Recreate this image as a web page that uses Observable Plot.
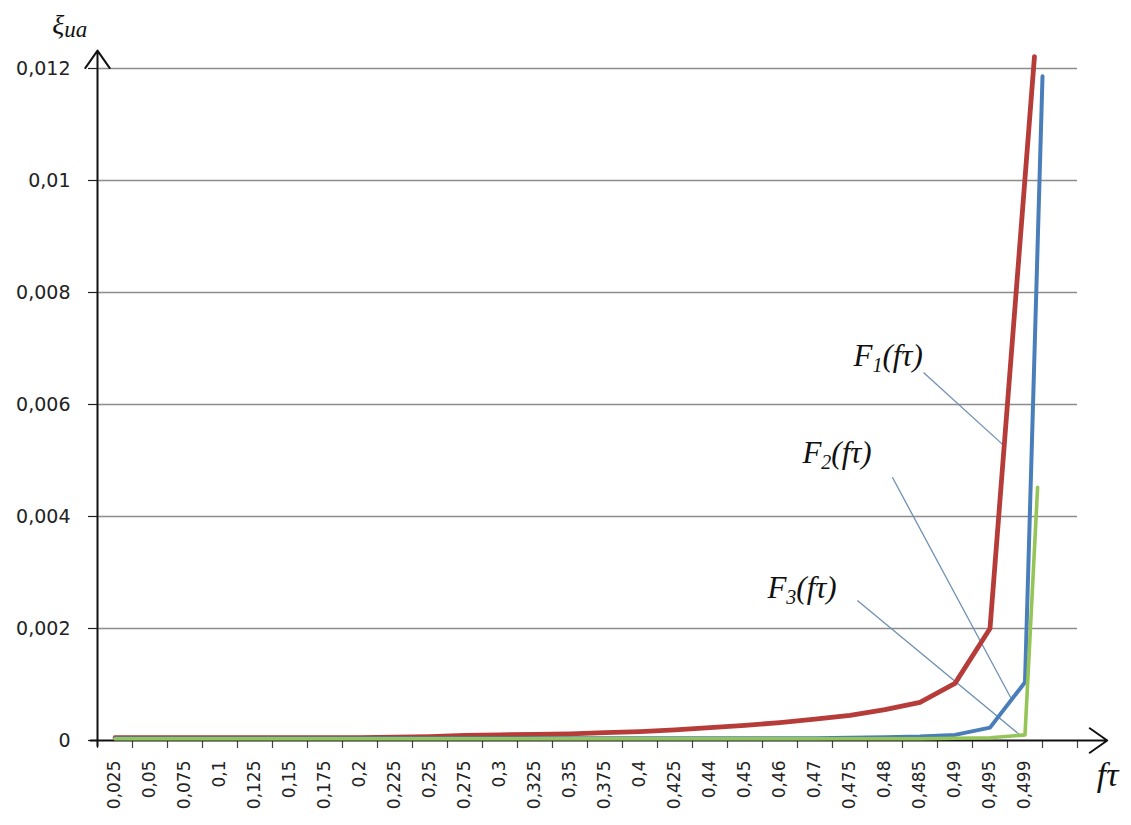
<!DOCTYPE html>
<html>
<head>
<meta charset="utf-8">
<script src="https://cdn.jsdelivr.net/npm/d3@7"></script>
<script src="https://cdn.jsdelivr.net/npm/@observablehq/plot@0.6"></script>
<style>
  html, body { margin: 0; padding: 0; background: #ffffff; }
  #chart svg { display: block; }
</style>
</head>
<body>
<div id="chart"></div>
<script>
// ---- data ----
const categories = ["0,025","0,05","0,075","0,1","0,125","0,15","0,175","0,2","0,225","0,25",
  "0,275","0,3","0,325","0,35","0,375","0,4","0,425","0,44","0,45","0,46","0,47","0,475",
  "0,48","0,485","0,49","0,495","0,499"];

const F1 = [0.00005,0.00005,0.00005,0.00005,0.00005,0.00005,0.00005,0.00005,0.00006,0.00007,
  0.00009,0.0001,0.00011,0.00012,0.00014,0.00016,0.00019,0.00023,0.00027,0.00032,0.00038,
  0.00045,0.00055,0.00068,0.00102,0.002];
const F2 = [0.00004,0.00004,0.00004,0.00004,0.00004,0.00004,0.00004,0.00004,0.00004,0.00004,
  0.00004,0.00004,0.00004,0.00004,0.00004,0.00004,0.00004,0.00004,0.00004,0.00004,0.00004,
  0.00005,0.00006,0.00007,0.0001,0.00023,0.00104];
const F3 = [0.00003,0.00003,0.00003,0.00003,0.00003,0.00003,0.00003,0.00003,0.00003,0.00003,
  0.00003,0.00003,0.00003,0.00003,0.00003,0.00003,0.00003,0.00003,0.00003,0.00003,0.00003,
  0.00003,0.00003,0.00003,0.00004,0.00005,0.0001];
// final (spike) point of each curve: position in category units and value
const peakAt    = [26.27, 26.5, 26.36];
const peakValue = [0.01221, 0.01186, 0.00452];

const yTicks = [0, 0.002, 0.004, 0.006, 0.008, 0.01, 0.012];
const yTickLabels = ["0", "0,002", "0,004", "0,006", "0,008", "0,01", "0,012"];

const seriesNames = ["F1", "F2", "F3"];
const annotationSubs = ["1", "2", "3"];
// label anchor (category units, value) and leader line ends
const annX  = [21.1, 19.64, 18.64];
const annY  = [0.00686, 0.00514, 0.00273];
const leadX1 = [23.1, 22.21, 21.21];
const leadY1 = [0.00657, 0.0047, 0.0025];
const leadX2 = [25.39, 25.64, 25.87];
const leadY2 = [0.00527, 0.00071, 0.00009];

// ---- build tables ----
const allSeries = [F1, F2, F3];
const rows = seriesNames.map((name, s) =>
  allSeries[s].map((v, i) => ({series: name, x: i, y: v}))
    .concat([{series: name, x: peakAt[s], y: peakValue[s]}]));

const annotations = seriesNames.map((name, s) => ({
  main: "F", sub: annotationSubs[s], rest: "(fτ)",
  x: annX[s], y: annY[s],
  x1: leadX1[s], y1: leadY1[s], x2: leadX2[s], y2: leadY2[s]
}));

const colors = {F1: "#b63c39", F2: "#4a7ebb", F3: "#95c457"};
const widths = {F1: 4.8, F2: 4, F3: 3.6};

const serif = "'Liberation Serif', 'Times New Roman', serif";
const sans = "'DejaVu Sans', sans-serif";

const chart = Plot.plot({
  width: 1131,
  height: 825,
  marginLeft: 97,
  marginRight: 54,
  marginTop: 68,
  marginBottom: 85,
  style: {background: "#ffffff", overflow: "visible"},
  x: {type: "linear", domain: [-0.5, 27.5]},
  y: {type: "linear", domain: [0, 0.012]},
  marks: [
    // gridlines
    Plot.ruleY(yTicks.filter(d => d > 0), {stroke: "#8c8c8c", strokeWidth: 1.6}),
    // y axis ticks + labels
    Plot.axisY({
      ticks: yTicks, tickFormat: (d, i) => yTickLabels[yTicks.indexOf(d)],
      tickSize: 9, tickPadding: 18, label: null,
      fontSize: 19, fontFamily: sans, fill: "#222", stroke: "#222", strokeWidth: 1.2
    }),
    // x axis ticks at category boundaries
    Plot.axisX({
      ticks: d3.range(-0.5, 28, 1), tickFormat: () => "",
      tickSize: 8, label: null, stroke: "#444", strokeWidth: 1.2
    }),
    // x axis category labels
    Plot.axisX({
      ticks: d3.range(categories.length), tickFormat: i => categories[i],
      tickSize: 0, tickPadding: 20, tickRotate: -90, label: null,
      fontSize: 17, fontFamily: sans, fill: "#222"
    }),
    // axes with arrows
    Plot.arrow([0], {x1: -0.5, x2: -0.5, y1: -0.0001, y2: 0.01232,
      stroke: "#111", strokeWidth: 2, headLength: 16, headAngle: 70}),
    Plot.arrow([0], {x1: -0.7, x2: 28.35, y1: 0, y2: 0,
      stroke: "#111", strokeWidth: 2, headLength: 16, headAngle: 70}),
    // leader lines
    Plot.link(annotations, {x1: "x1", y1: "y1", x2: "x2", y2: "y2",
      stroke: "#6f90b2", strokeWidth: 1.3}),
    // series lines
    ...seriesNames.map((name, s) => Plot.line(rows[s], {
      x: "x", y: "y", stroke: colors[name], strokeWidth: widths[name],
      strokeLinejoin: "round", strokeLinecap: "round"
    })),
    // annotation labels
    Plot.text(annotations, {x: "x", y: "y", text: d => d.main + d.sub + d.rest,
      textAnchor: "start", fontFamily: serif, fontStyle: "italic", fontSize: 31,
      fill: "#111", className: "ann"}),
    // axis titles
    Plot.text([0], {x: -1.79, y: 0.01277, text: () => "ξua", textAnchor: "start",
      fontFamily: serif, fontStyle: "italic", fontSize: 28, fill: "#111", className: "ylab"}),
    Plot.text([0], {x: 28.36, y: -0.00062, text: () => "fτ",
      fontFamily: serif, fontStyle: "italic", fontSize: 34, fill: "#111"})
  ]
});

document.getElementById("chart").appendChild(chart);

// subscripts as real text tspans
const NS = "http://www.w3.org/2000/svg";
function tspan(parent, txt, attrs) {
  const t = document.createElementNS(NS, "tspan");
  t.textContent = txt;
  for (const k in attrs) t.setAttribute(k, attrs[k]);
  parent.appendChild(t);
  return t;
}
d3.select(chart).selectAll("g.ann text").each(function(_, i) {
  const a = annotations[i];
  this.textContent = "";
  tspan(this, a.main, {});
  tspan(this, a.sub, {"font-size": 20, dy: 6});
  tspan(this, a.rest, {dy: -6});
});
d3.select(chart).selectAll("g.ylab text").each(function() {
  this.textContent = "";
  tspan(this, "ξ", {});
  tspan(this, "ua", {"font-size": 23, dy: 3});
});
</script>
</body>
</html>
